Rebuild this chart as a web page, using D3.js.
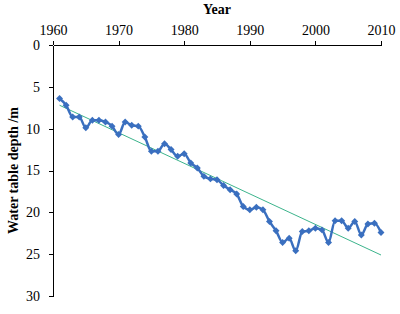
<!DOCTYPE html>
<html>
<head>
<meta charset="utf-8">
<script src="https://cdn.jsdelivr.net/npm/d3@7"></script>
<style>
    body { margin: 0; background: #fff; }
    .axis path, .axis line { stroke: #000; stroke-width: 1; shape-rendering: crispEdges; }
</style>
</head>
<body>
<svg id="chart" width="400" height="314"></svg>
<script>
var years = [1961,1962,1963,1964,1965,1966,1967,1968,1969,1970,
             1971,1972,1973,1974,1975,1976,1977,1978,1979,1980,
             1981,1982,1983,1984,1985,1986,1987,1988,1989,1990,
             1991,1992,1993,1994,1995,1996,1997,1998,1999,2000,
             2001,2002,2003,2004,2005,2006,2007,2008,2009,2010];
var depths = [6.4,7.2,8.6,8.6,9.9,9.0,9.0,9.2,9.7,10.7,
              9.2,9.6,9.7,11.0,12.7,12.7,11.8,12.5,13.3,13.0,
              14.1,14.7,15.7,16.0,16.1,16.8,17.3,17.8,19.3,19.7,
              19.4,19.7,21.1,22.2,23.6,23.1,24.6,22.3,22.2,21.9,
              22.1,23.6,21.0,21.0,21.9,21.1,22.7,21.4,21.3,22.4];
// linear trend, end points
var trendYears = [1961, 2010];
var trendDepths = [7.2, 25.1];
var xTicks = [1960, 1970, 1980, 1990, 2000, 2010];
var yTicks = [0, 5, 10, 15, 20, 25, 30];

var serif = "'Liberation Serif', 'Times New Roman', serif";
var svg = d3.select("#chart");
var plotLeft = 53, plotRight = 381, plotTop = 45, plotBottom = 296;

var x = d3.scaleLinear().domain([1960, 2010]).range([plotLeft, plotRight]);
var y = d3.scaleLinear().domain([0, 30]).range([plotTop, plotBottom]);

// axes
var xAxis = svg.append("g")
        .attr("class", "axis")
        .attr("transform", "translate(0," + plotTop + ")")
        .call(d3.axisTop(x).tickValues(xTicks).tickFormat(d3.format("d")).tickSizeInner(4).tickSizeOuter(0));

var yAxis = svg.append("g")
        .attr("class", "axis")
        .attr("transform", "translate(" + plotLeft + ",0)")
        .call(d3.axisLeft(y).tickValues(yTicks).tickSizeInner(4).tickSizeOuter(0));

svg.selectAll(".axis")
    .attr("font-family", serif)
    .attr("font-size", 14);
xAxis.selectAll("text").attr("dy", "-3").attr("fill", "#000");
yAxis.selectAll("text").attr("dx", "-6").attr("fill", "#000");

// titles
svg.append("text")
    .attr("x", (plotLeft + plotRight) / 2)
    .attr("y", 14)
    .attr("text-anchor", "middle")
    .attr("font-family", serif)
    .attr("font-size", 14)
    .attr("font-weight", "bold")
    .text("Year");

svg.append("text")
    .attr("transform", "translate(18," + ((plotTop + plotBottom) / 2) + ") rotate(-90)")
    .attr("text-anchor", "middle")
    .attr("font-family", serif)
    .attr("font-size", 14)
    .attr("font-weight", "bold")
    .text("Water table depth /m");

// trend line
svg.append("line")
    .attr("x1", x(trendYears[0]))
    .attr("y1", y(trendDepths[0]))
    .attr("x2", x(trendYears[1]))
    .attr("y2", y(trendDepths[1]))
    .attr("stroke", "#3cb48c")
    .attr("stroke-width", 1);

// data series
var points = years.map(function (d, i) { return [d, depths[i]]; });

svg.append("path")
    .datum(points)
    .attr("fill", "none")
    .attr("stroke", "#3a6fbf")
    .attr("stroke-width", 2.5)
    .attr("stroke-linejoin", "round")
    .attr("d", d3.line()
        .x(function (d) { return x(d[0]); })
        .y(function (d) { return y(d[1]); })
        .curve(d3.curveMonotoneX));

svg.append("g")
    .selectAll("path")
        .data(points)
        .enter()
    .append("path")
        .attr("d", d3.symbol().type(d3.symbolSquare).size(24))
        .attr("transform", function (d) { return "translate(" + x(d[0]) + "," + y(d[1]) + ") rotate(45)"; })
        .attr("fill", "#3a6fbf");
</script>
</body>
</html>
